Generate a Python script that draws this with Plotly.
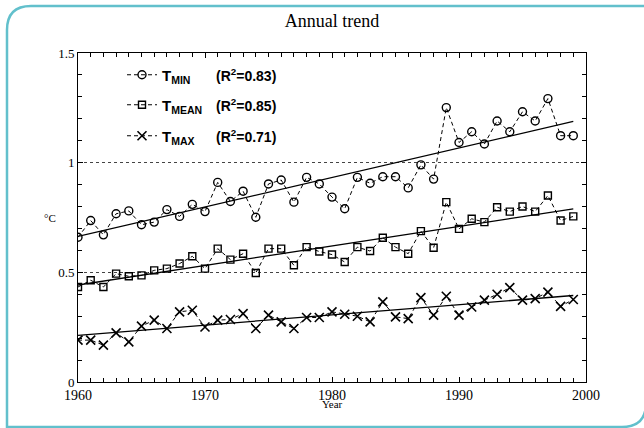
import numpy as np
import plotly.graph_objects as go

# Annual temperature anomalies, 1960-1999
years = list(range(1960, 2000))
t_min = [0.66, 0.736, 0.671, 0.767, 0.78, 0.717, 0.729, 0.786, 0.755, 0.81,
         0.777, 0.91, 0.823, 0.87, 0.751, 0.903, 0.921, 0.82, 0.933, 0.903,
         0.843, 0.79, 0.933, 0.906, 0.936, 0.936, 0.885, 0.99, 0.925, 1.251,
         1.092, 1.141, 1.085, 1.19, 1.141, 1.232, 1.19, 1.292, 1.123, 1.123]
t_mean = [0.433, 0.464, 0.433, 0.494, 0.482, 0.486, 0.509, 0.517, 0.54, 0.573,
          0.517, 0.608, 0.558, 0.585, 0.497, 0.608, 0.608, 0.532, 0.615, 0.595,
          0.581, 0.547, 0.615, 0.597, 0.658, 0.615, 0.585, 0.688, 0.612, 0.82,
          0.698, 0.744, 0.729, 0.797, 0.777, 0.8, 0.777, 0.85, 0.736, 0.755]
t_max = [0.191, 0.191, 0.168, 0.224, 0.183, 0.255, 0.282, 0.244, 0.32, 0.327,
         0.251, 0.282, 0.285, 0.312, 0.244, 0.305, 0.274, 0.244, 0.294, 0.294,
         0.32, 0.309, 0.3, 0.274, 0.365, 0.297, 0.289, 0.385, 0.305, 0.391,
         0.305, 0.342, 0.373, 0.4, 0.43, 0.373, 0.38, 0.41, 0.345, 0.376]

series_names = ["<b>T<sub>MIN</sub></b>", "<b>T<sub>MEAN</sub></b>", "<b>T<sub>MAX</sub></b>"]
r2_labels = ["<b>(R<sup>2</sup>=0.83)</b>", "<b>(R<sup>2</sup>=0.85)</b>", "<b>(R<sup>2</sup>=0.71)</b>"]
x_range = [1960, 2000]
y_range = [0, 1.5]

W, H = 644, 428
L, R, T, B = 78, 58, 53, 46
PW, PH = W - L - R, H - T - B


def px_x(x):
    return (x - L) / PW


def px_y(y):
    return (H - B - y) / PH


serif = "Liberation Serif, Times New Roman, serif"
sans = "Liberation Sans, Arial, sans-serif"

fig = go.Figure()

symbols = [("circle-open", 8, 1.4), ("square-open", 7, 1.4), ("x-thin", 9, 1.6)]
legend_ids = ["legend", "legend2", "legend3"]

for i, (vals, name) in enumerate(zip([t_min, t_mean, t_max], series_names)):
    sym, size, lw = symbols[i]
    fig.add_trace(go.Scatter(
        x=years, y=vals, mode="lines+markers", name=name,
        line=dict(color="black", width=1, dash="4px,3px"),
        marker=dict(symbol=sym, size=size, color="black",
                    line=dict(color="black", width=lw)),
        legend=legend_ids[i], showlegend=True,
    ))
    # least-squares linear trend
    slope, icpt = np.polyfit(years, vals, 1)
    fit = [slope * y + icpt for y in years]
    fig.add_trace(go.Scatter(
        x=years, y=fit, mode="lines", showlegend=False,
        line=dict(color="black", width=1.3),
    ))

# legend rows
row_y = [75, 105, 136]
legend_cfg = {}
for lid, yy in zip(legend_ids, row_y):
    legend_cfg[lid] = dict(
        x=px_x(122), y=px_y(yy), xanchor="left", yanchor="middle",
        bgcolor="rgba(0,0,0,0)", borderwidth=0,
        font=dict(family=sans, size=15, color="black"),
        itemwidth=30,
    )

annotations = []
for lab, yy in zip(r2_labels, row_y):
    annotations.append(dict(
        text=lab, x=px_x(214), y=px_y(yy), xref="paper", yref="paper",
        xanchor="left", yanchor="middle", showarrow=False,
        font=dict(family=sans, size=14, color="black"),
    ))

# axis captions
annotations.append(dict(
    text="°C", x=px_x(42), y=px_y(218), xref="paper", yref="paper",
    showarrow=False, font=dict(family=serif, size=11, color="black"),
))
annotations.append(dict(
    text="Year", x=px_x(332), y=px_y(412), xref="paper", yref="paper",
    showarrow=False, font=dict(family=serif, size=11, color="black"),
))

# rounded frame around the figure
x0, x1, y0, y1, r = 7, 646, 6, 427, 24
path = (f"M {px_x(x0)},{px_y(y0 + r)} "
        f"L {px_x(x0)},{px_y(y1)} "
        f"L {px_x(x1 - r)},{px_y(y1)} "
        f"Q {px_x(x1)},{px_y(y1)} {px_x(x1)},{px_y(y1 - r)} "
        f"L {px_x(x1)},{px_y(y0)} "
        f"L {px_x(x0 + r)},{px_y(y0)} "
        f"Q {px_x(x0)},{px_y(y0)} {px_x(x0)},{px_y(y0 + r)} Z")

fig.update_layout(
    width=W, height=H,
    margin=dict(l=L, r=R, t=T, b=B),
    paper_bgcolor="white", plot_bgcolor="white",
    title=dict(text="Annual trend", x=px_x(332), xref="paper", xanchor="center",
               y=1 - 21 / H, yanchor="middle",
               font=dict(family=serif, size=18, color="black")),
    annotations=annotations,
    shapes=[dict(type="path", path=path, xref="paper", yref="paper",
                 line=dict(color="#62c0cc", width=2.5), fillcolor="rgba(0,0,0,0)",
                 layer="below")],
    **legend_cfg,
)

fig.update_xaxes(
    range=x_range, dtick=10, ticks="inside", ticklen=5, tickwidth=1,
    tickcolor="black", showline=True, linecolor="black", linewidth=1,
    mirror="allticks", showgrid=True, gridcolor="rgba(0,0,0,0)",
    minor=dict(dtick=1, ticks="inside", ticklen=4, tickcolor="black"),
    tickfont=dict(family=serif, size=14, color="black"),
)
fig.update_yaxes(
    range=y_range, dtick=0.5, ticks="inside", ticklen=5, tickwidth=1,
    tickcolor="black", showline=True, linecolor="black", linewidth=1,
    mirror="allticks", showgrid=True, gridcolor="#444", griddash="dot",
    gridwidth=1, zeroline=False,
    minor=dict(dtick=0.1, ticks="inside", ticklen=4, tickcolor="black"),
    tickfont=dict(family=serif, size=13, color="black"),
)

fig.write_html("out.html")
